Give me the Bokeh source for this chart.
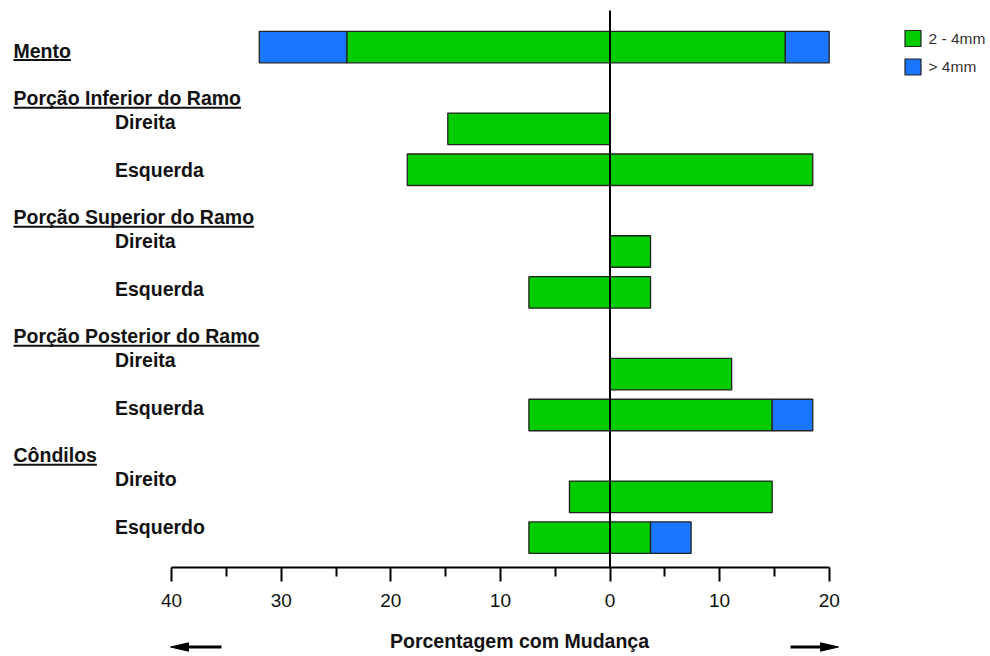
from bokeh.plotting import figure
from bokeh.models import Range1d, FixedTicker, ColumnDataSource
from bokeh.core.properties import value
from bokeh.embed import file_html
from bokeh.resources import INLINE

# ---------------- data ----------------
groups = ["Mento", "Porção Inferior do Ramo", "Porção Superior do Ramo",
          "Porção Posterior do Ramo", "Côndilos"]
sides = [[], ["Direita", "Esquerda"], ["Direita", "Esquerda"],
         ["Direita", "Esquerda"], ["Direito", "Esquerdo"]]
# percentage with change, per bar row (Mento, then Direita/Esquerda of each group)
green_neg = [24, 14.8, 18.5, 0, 7.4, 0, 7.4, 3.7, 7.4]    # 2 - 4mm, left side
blue_neg = [8, 0, 0, 0, 0, 0, 0, 0, 0]                    # > 4mm, left side
green_pos = [16, 0, 18.5, 3.7, 3.7, 11.1, 14.8, 14.8, 3.7]  # 2 - 4mm, right side
blue_pos = [4, 0, 0, 0, 0, 0, 3.7, 0, 3.7]                # > 4mm, right side
series_names = ["2 - 4mm", "> 4mm"]
tick_values = [-40, -30, -20, -10, 0, 10, 20]
minor_tick_values = [-35, -25, -15, -5, 5, 15]
axis_title = "Porcentagem com Mudança"

# ---------------- styling / layout ----------------
GREEN, BLUE = "#00CC00", "#1A75FF"
EDGE = "#222222"
FONT = value("Liberation Sans")
W, H = 990, 656
X0_PX, X_SCALE = 609.5, 10.96     # px of zero, px per unit
Y0_PX, Y_SCALE = 46.6, 40.88      # px of first row, px per row


def xd(px):
    return (px - X0_PX) / X_SCALE


def yd(py):
    return (py - Y0_PX) / Y_SCALE


def mid(base_px, size):
    # vertical middle of a text line whose baseline is at base_px
    return yd(base_px - 0.35 * size)


BAR_H = 31.5 / Y_SCALE
AXIS_Y = yd(566.8)

p = figure(width=W, height=H, x_range=Range1d(xd(0), xd(W)),
           y_range=Range1d(yd(H), yd(0)), output_backend="svg",
           toolbar_location=None, min_border=0)
p.min_border_left = p.min_border_right = p.min_border_top = p.min_border_bottom = 0
p.outline_line_color = None
p.grid.visible = False
p.yaxis.visible = False
p.background_fill_color = "white"

# ---------------- bar rows ----------------
bar_rows = []
r = 0
for g, s in zip(groups, sides):
    if not s:
        bar_rows.append(r)
        r += 1
    else:
        r += 1  # header row
        for _ in s:
            bar_rows.append(r)
            r += 1

seg = {"left": [], "right": [], "y": [], "color": []}
for i, yv in enumerate(bar_rows):
    pieces = [(-green_neg[i] - blue_neg[i], -green_neg[i], BLUE),
              (-green_neg[i], 0, GREEN),
              (0, green_pos[i], GREEN),
              (green_pos[i], green_pos[i] + blue_pos[i], BLUE)]
    for l, rr, c in pieces:
        if rr > l:
            seg["left"].append(l)
            seg["right"].append(rr)
            seg["y"].append(yv)
            seg["color"].append(c)

p.hbar(y="y", left="left", right="right", height=BAR_H, fill_color="color",
       line_color=EDGE, line_width=1.3, source=ColumnDataSource(seg))

# zero line
p.segment(x0=[0], y0=[yd(10)], x1=[0], y1=[AXIS_Y], line_color="black", line_width=2)

# ---------------- x axis ----------------
ax = p.xaxis[0]
ax.fixed_location = AXIS_Y
ax.bounds = (tick_values[0], tick_values[-1])
ax.ticker = FixedTicker(ticks=tick_values, minor_ticks=minor_tick_values)
ax.major_label_overrides = {t: str(abs(t)) for t in tick_values}
ax.axis_line_width = 2
ax.axis_line_color = "black"
ax.major_tick_line_width = 2
ax.minor_tick_line_width = 2
ax.major_tick_out = 14
ax.major_tick_in = 0
ax.minor_tick_out = 9
ax.minor_tick_in = 0
ax.major_label_standoff = 13
ax.major_label_text_font = "Liberation Sans"
ax.major_label_text_font_size = "19px"
ax.major_label_text_color = "#111111"

# axis title
TITLE_SIZE = 19.5
p.text(x=[xd(519)], y=[mid(647.7, TITLE_SIZE)], text=[axis_title], text_font=FONT,
       text_font_size=f"{TITLE_SIZE}px", text_font_style="bold", text_align="center",
       text_baseline="middle", text_color="#111111")

# arrows
ARROW_Y = yd(646.5)
p.segment(x0=[xd(221), xd(790)], y0=[ARROW_Y, ARROW_Y], x1=[xd(184), xd(824)],
          y1=[ARROW_Y, ARROW_Y], line_color="black", line_width=3)
p.patches(xs=[[xd(170), xd(188), xd(188)], [xd(838), xd(820), xd(820)]],
          ys=[[ARROW_Y, yd(642.3), yd(650.7)], [ARROW_Y, yd(642.3), yd(650.7)]],
          fill_color="black", line_color="black", line_width=1)

# ---------------- row labels (text block with fixed line spacing) ----------------
lines = []
for g, s in zip(groups, sides):
    if lines:
        lines.append(("", None))
    lines.append((g, "h"))
    for j, sd in enumerate(s):
        if j > 0:
            lines.append(("", None))
        lines.append((sd, "s"))

LINE0_PX, LINE_STEP = 57.0, 23.8
LABEL_SIZE = 19.5
HDR_X, SUB_X = 13.0, 114.5
ADV = {' ': 278, 'a': 556, 'ã': 556, 'ç': 556, 'd': 611, 'e': 556, 'f': 333, 'i': 278,
       'l': 278, 'm': 889, 'n': 611, 'o': 611, 'ô': 611, 'p': 611, 'r': 389, 's': 556,
       't': 333, 'u': 611, 'C': 722, 'I': 278, 'M': 833, 'P': 667, 'R': 722, 'S': 667}

lab = {"x": [], "y": [], "text": []}
ul = {"x0": [], "x1": [], "y": []}
for k, (txt, kind) in enumerate(lines):
    if not txt:
        continue
    base = LINE0_PX + k * LINE_STEP
    x_px = HDR_X if kind == "h" else SUB_X
    lab["x"].append(xd(x_px))
    lab["y"].append(mid(base, LABEL_SIZE))
    lab["text"].append(txt)
    if kind == "h":
        wpx = sum(ADV.get(ch, 600) for ch in txt) / 1000 * LABEL_SIZE
        ul["x0"].append(xd(x_px))
        ul["x1"].append(xd(x_px + wpx))
        ul["y"].append(yd(base + 2.6))

p.text(x="x", y="y", text="text", source=ColumnDataSource(lab), text_font=FONT,
       text_font_size=f"{LABEL_SIZE}px", text_font_style="bold",
       text_baseline="middle", text_align="left", text_color="#111111")
p.segment(x0="x0", y0="y", x1="x1", y1="y", source=ColumnDataSource(ul),
          line_color="#111111", line_width=2)

# ---------------- legend ----------------
LEG_SIZE = 15.5
p.scatter(x=[xd(912.5), xd(912.5)], y=[yd(38), yd(66.5)], marker="square", size=16,
          fill_color=[GREEN, BLUE], line_color=EDGE, line_width=1.2)
p.text(x=[xd(928), xd(928)], y=[mid(43, LEG_SIZE), mid(71.5, LEG_SIZE)],
       text=series_names, text_font=FONT, text_font_size=f"{LEG_SIZE}px",
       text_baseline="middle", text_color="#333333")

open("out.html", "w").write(file_html(p, INLINE))
